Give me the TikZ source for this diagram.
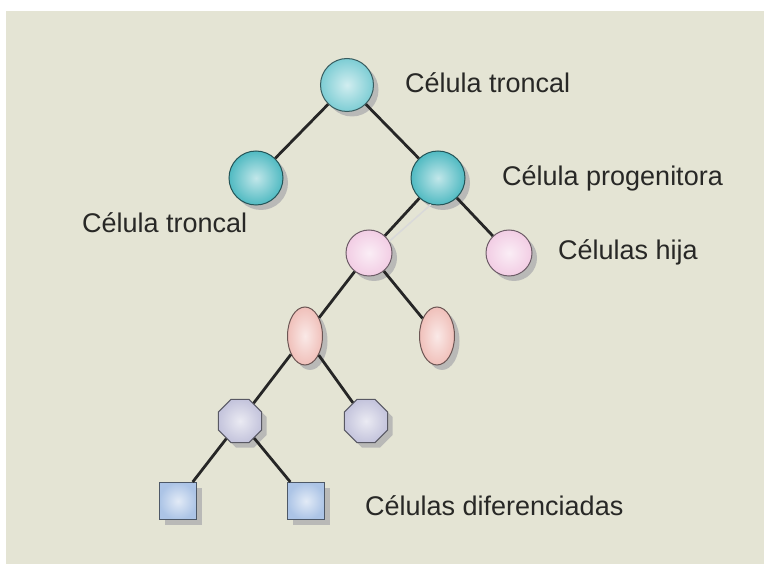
\documentclass[tikz,border=0pt]{standalone}
\usepackage{fontspec}
\setmainfont{Liberation Sans}
\usetikzlibrary{shapes.geometric, shadows}

\definecolor{fondo}{RGB}{228,228,212}
\definecolor{texto}{RGB}{40,40,38}
\definecolor{sombra}{RGB}{150,150,160}
\definecolor{tealA}{RGB}{125,205,212}
\definecolor{tealB}{RGB}{80,186,194}
\definecolor{rosa}{RGB}{242,205,228}
\definecolor{salmon}{RGB}{240,192,186}
\definecolor{lila}{RGB}{196,196,220}
\definecolor{azul}{RGB}{172,196,230}

\tikzset{
  celula/.style={draw=#1!45!black, line width=1pt, inner sep=0pt,
    shading=radial, inner color=#1!35!white, outer color=#1,
    drop shadow={shadow xshift=5pt, shadow yshift=-5pt, fill=sombra, opacity=0.55}},
  madre/.style={circle, celula=tealA, minimum size=53pt},
  troncal/.style={circle, celula=tealB, minimum size=54pt},
  hija/.style={circle, celula=rosa, minimum size=46pt},
  ovalo/.style={ellipse, celula=salmon, minimum width=35pt, minimum height=58pt},
  octo/.style={regular polygon, regular polygon sides=8, celula=lila, minimum size=47pt},
  cuadro/.style={rectangle, celula=azul, minimum size=37pt},
  rama/.style={draw=black!85, line width=2.8pt},
  etiqueta/.style={text=texto, anchor=base west, inner sep=0pt, font=\fontsize{27}{31}\selectfont}
}

\begin{document}
\begin{tikzpicture}[x=1pt, y=-1pt]
\useasboundingbox (0,0) rectangle (764,564);
% fondo
\fill[white] (0,0) rectangle (764,564);
\fill[fondo] (6,11) rectangle (764,564);

% células
\node[madre] (raiz) at (347,85) {};
\node[troncal] (tronc) at (256,178) {};
\node[troncal] (prog) at (438,178) {};
\node[hija] (hijaL) at (369,253) {};
\node[hija] (hijaR) at (509,253) {};
\node[ovalo] (ovL) at (305,336) {};
\node[ovalo] (ovR) at (437,336) {};
\node[octo] (octL) at (240,421) {};
\node[octo] (octR) at (366,421) {};
\node[cuadro] (cuaL) at (178,501) {};
\node[cuadro] (cuaR) at (306,501) {};

% ramas
\draw[rama] (raiz) -- (tronc);
\draw[rama] (raiz) -- (prog);
\draw[rama] (prog) -- (hijaL);
\draw[draw=gray!30!white, line width=1.5pt] (prog.255) -- (hijaL.30);
\draw[rama] (prog) -- (hijaR);
\draw[rama] (hijaL) -- (ovL);
\draw[rama] (hijaL) -- (ovR);
\draw[rama] (ovL) -- (octL);
\draw[rama] (ovL) -- (octR);
\draw[rama] (octL) -- (cuaL);
\draw[rama] (octL) -- (cuaR);

% textos
\node[etiqueta] (tRaiz) at (405,93) {Célula troncal};
\node[etiqueta] (tProg) at (502,186) {Célula progenitora};
\node[etiqueta] (tTronc) at (82,233) {Célula troncal};
\node[etiqueta] (tHija) at (558,260) {Células hija};
\node[etiqueta] (tDif) at (365,515) {Células diferenciadas};

\end{tikzpicture}
\end{document}
